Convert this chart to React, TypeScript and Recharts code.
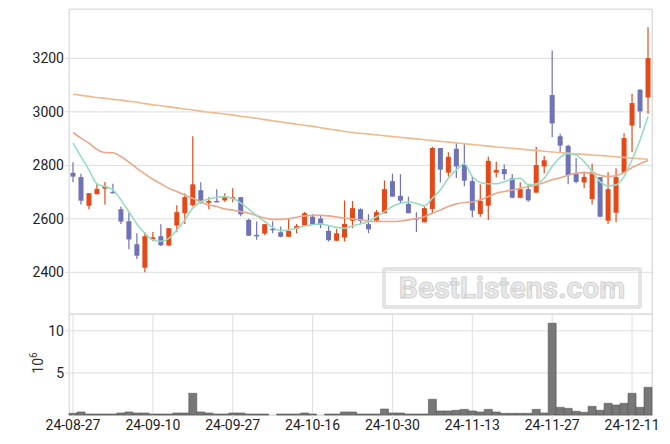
import React from 'react';
import { ComposedChart, Bar, Line, XAxis, YAxis, CartesianGrid } from 'recharts';

const dates = [
  '24-08-27', '24-08-28', '24-08-29', '24-08-30', '24-09-02', '24-09-03', '24-09-04', '24-09-05', '24-09-06', '24-09-09',
  '24-09-10', '24-09-11', '24-09-12', '24-09-13', '24-09-19', '24-09-20', '24-09-23', '24-09-24', '24-09-25', '24-09-26',
  '24-09-27', '24-09-30', '24-10-02', '24-10-04', '24-10-07', '24-10-08', '24-10-10', '24-10-11', '24-10-14', '24-10-15',
  '24-10-16', '24-10-17', '24-10-18', '24-10-21', '24-10-22', '24-10-23', '24-10-24', '24-10-25', '24-10-28', '24-10-29',
  '24-10-30', '24-10-31', '24-11-01', '24-11-04', '24-11-05', '24-11-06', '24-11-07', '24-11-08', '24-11-11', '24-11-12',
  '24-11-13', '24-11-14', '24-11-15', '24-11-18', '24-11-19', '24-11-20', '24-11-21', '24-11-22', '24-11-25', '24-11-26',
  '24-11-27', '24-11-28', '24-11-29', '24-12-02', '24-12-03', '24-12-04', '24-12-05', '24-12-06', '24-12-09', '24-12-10',
  '24-12-11', '24-12-12', '24-12-13',
];

const openPrices = [
  2772, 2756, 2649, 2692, 2713, 2701, 2636, 2591, 2505, 2417, 2523, 2535, 2500, 2575, 2621, 2651, 2707, 2660,
  2667, 2669, 2674, 2681, 2596, 2540, 2545, 2563, 2550, 2533, 2563, 2575, 2608, 2601, 2555, 2518, 2530, 2593,
  2636, 2580, 2593, 2621, 2741, 2686, 2656, 2603, 2587, 2637, 2865, 2773, 2862, 2802, 2741, 2618, 2649, 2773,
  2786, 2752, 2679, 2711, 2698, 2796, 3063, 2909, 2873, 2768, 2736, 2674, 2756, 2593, 2623, 2773, 2949, 3083, 3054,
];

const closePrices = [
  2758, 2668, 2696, 2712, 2723, 2697, 2590, 2523, 2462, 2535, 2531, 2501, 2565, 2625, 2681, 2729, 2662, 2667,
  2664, 2683, 2681, 2617, 2537, 2537, 2580, 2561, 2533, 2555, 2573, 2621, 2578, 2577, 2520, 2546, 2581, 2640,
  2592, 2561, 2625, 2711, 2683, 2668, 2621, 2601, 2640, 2865, 2784, 2832, 2796, 2743, 2631, 2667, 2817, 2783,
  2767, 2679, 2711, 2669, 2801, 2819, 2957, 2874, 2764, 2738, 2757, 2776, 2608, 2711, 2756, 2902, 3033, 3002, 3201,
];

const highPrices = [
  2812, 2769, 2696, 2731, 2738, 2731, 2646, 2623, 2546, 2551, 2551, 2580, 2565, 2651, 2696, 2909, 2737, 2681,
  2711, 2696, 2714, 2681, 2600, 2590, 2580, 2591, 2571, 2601, 2581, 2626, 2618, 2611, 2575, 2562, 2669, 2667,
  2640, 2617, 2633, 2743, 2769, 2767, 2683, 2625, 2646, 2870, 2865, 2849, 2885, 2885, 2758, 2729, 2832, 2814,
  2803, 2768, 2737, 2731, 2870, 2835, 3230, 2918, 2877, 2828, 2777, 2806, 2756, 2774, 2789, 2920, 3068, 3085, 3317,
];

const lowPrices = [
  2737, 2654, 2636, 2692, 2654, 2696, 2581, 2486, 2450, 2400, 2516, 2498, 2500, 2550, 2581, 2646, 2656, 2637,
  2664, 2664, 2662, 2610, 2537, 2522, 2540, 2546, 2531, 2533, 2546, 2575, 2578, 2565, 2515, 2518, 2515, 2565,
  2583, 2546, 2587, 2621, 2683, 2656, 2621, 2551, 2587, 2621, 2736, 2758, 2753, 2722, 2606, 2608, 2596, 2756,
  2746, 2677, 2677, 2664, 2698, 2771, 2905, 2848, 2729, 2733, 2714, 2654, 2606, 2581, 2587, 2773, 2849, 2939, 2993,
];

// volume in millions of shares
const volumes = [
  0.2, 0.36, 0.12, 0.12, 0.12, 0.12, 0.24, 0.36, 0.24, 0.24, 0.12, 0.12, 0.12, 0.24, 0.24, 2.58, 0.36, 0.24,
  0.12, 0.12, 0.24, 0.24, 0.12, 0.12, 0.12, 0, 0.12, 0.12, 0.12, 0.24, 0.12, 0, 0.12, 0.12, 0.36, 0.36,
  0.12, 0.12, 0.12, 0.71, 0.24, 0.24, 0.12, 0.12, 0.12, 1.87, 0.48, 0.48, 0.56, 0.67, 0.48, 0.36, 0.67, 0.36,
  0.2, 0.2, 0.2, 0.2, 0.67, 0.24, 10.9, 0.91, 0.79, 0.44, 0.32, 1.03, 0.56, 1.39, 1.19, 1.39, 2.58, 0.91, 3.29,
];

const ma5 = [
  2883, 2833, 2783, 2731, 2721, 2708, 2671, 2627, 2581, 2546, 2521, 2516, 2527, 2558, 2596, 2640, 2664, 2674,
  2681, 2683, 2676, 2660, 2636, 2612, 2590, 2568, 2556, 2558, 2565, 2573, 2578, 2581, 2575, 2568, 2565, 2573,
  2581, 2590, 2608, 2627, 2646, 2658, 2664, 2658, 2648, 2677, 2708, 2752, 2783, 2806, 2758, 2736, 2731, 2731,
  2739, 2748, 2752, 2727, 2731, 2752, 2796, 2830, 2845, 2839, 2814, 2777, 2739, 2723, 2727, 2758, 2821, 2895, 2983,
];

const ma20 = [
  2923, 2902, 2883, 2860, 2848, 2847, 2833, 2812, 2789, 2768, 2748, 2731, 2714, 2702, 2689, 2677, 2664, 2652,
  2646, 2637, 2633, 2627, 2621, 2612, 2603, 2598, 2598, 2601, 2606, 2611, 2613, 2613, 2611, 2607, 2603, 2600,
  2596, 2592, 2590, 2590, 2590, 2592, 2596, 2601, 2608, 2621, 2633, 2646, 2656, 2661, 2663, 2671, 2683, 2696,
  2702, 2708, 2714, 2721, 2727, 2736, 2746, 2754, 2763, 2771, 2773, 2771, 2763, 2758, 2761, 2773, 2792, 2806, 2818,
];

const ma60 = [
  3066, 3062, 3058, 3054, 3051, 3047, 3044, 3040, 3036, 3031, 3027, 3023, 3019, 3015, 3011, 3007, 3003, 2999,
  2996, 2992, 2988, 2984, 2980, 2976, 2971, 2967, 2963, 2958, 2954, 2950, 2946, 2941, 2936, 2932, 2927, 2923,
  2920, 2917, 2914, 2911, 2908, 2905, 2902, 2899, 2896, 2893, 2890, 2887, 2884, 2881, 2878, 2875, 2872, 2869,
  2867, 2864, 2861, 2858, 2856, 2853, 2850, 2848, 2845, 2843, 2841, 2839, 2837, 2835, 2832, 2830, 2827, 2825, 2823,
];

const dateTicks = ['24-08-27', '24-09-10', '24-09-27', '24-10-16', '24-10-30', '24-11-13', '24-11-27', '24-12-11'];
const priceTicks = [2400, 2600, 2800, 3000, 3200];
const volumeTicks = [5, 10];

const UP = '#e4491a';
const DOWN = '#6e72b6';
const GRID = '#dedede';
const FONT = 'Roboto, "DejaVu Sans", sans-serif';

const data = dates.map((date, i) => ({
  date,
  open: openPrices[i],
  close: closePrices[i],
  high: highPrices[i],
  low: lowPrices[i],
  range: [lowPrices[i], highPrices[i]],
  volume: volumes[i],
  ma5: ma5[i],
  ma20: ma20[i],
  ma60: ma60[i],
}));

const Candle = (props: any) => {
  let { x, y, width, height } = props;
  const { open, close, high, low } = props.payload;
  if (height < 0) {
    y += height;
    height = -height;
  }
  const cx = x + width / 2;
  const k = height / (high - low || 1);
  const py = (v: number) => y + (high - v) * k;
  const color = close >= open ? UP : DOWN;
  const top = py(Math.max(open, close));
  const bottom = py(Math.min(open, close));
  return (
    <g>
      <line x1={cx} x2={cx} y1={y} y2={y + height} stroke={color} strokeWidth={1.2} />
      <rect x={cx - 2.5} y={top} width={5} height={Math.max(bottom - top, 1.5)} fill={color} />
    </g>
  );
};

const tickStyle = { fill: '#222', fontSize: 14, fontFamily: FONT };

export default function App() {
  return (
    <div style={{ position: 'absolute', left: 0, top: 0, width: 670, height: 444, background: '#fff', overflow: 'hidden' }}>
      {/* panel frames */}
      <div style={{ position: 'absolute', left: 69, top: 9, width: 584, height: 306, boxSizing: 'border-box', border: `1px solid ${GRID}` }} />
      <div style={{ position: 'absolute', left: 69, top: 314, width: 584, height: 102, boxSizing: 'border-box', border: `1px solid ${GRID}` }} />

      {/* watermark */}
      <div
        style={{
          position: 'absolute', left: 382, top: 267, width: 260, height: 42, boxSizing: 'border-box',
          border: '4px solid #e4e4e4', borderRadius: 3, textAlign: 'center',
          fontFamily: FONT, fontWeight: 700, fontSize: 30, lineHeight: '34px',
          color: '#e9e9e9', WebkitTextStroke: '1px #d2d2d2',
        }}
      >
        BestListens.com
      </div>

      <div style={{ position: 'absolute', left: 0, top: 0 }}>
        <ComposedChart width={670} height={315} data={data} margin={{ top: 9, right: 18, bottom: 1, left: 0 }} barCategoryGap={0}>
          <CartesianGrid stroke={GRID} />
          <XAxis dataKey="date" ticks={dateTicks} interval={0} height={0} tick={false} axisLine={false} tickLine={false} />
          <YAxis
            domain={[2244, 3385]}
            ticks={priceTicks}
            width={69}
            axisLine={false}
            tickLine={{ stroke: GRID }}
            tickSize={4}
            tickMargin={1}
            tick={tickStyle}
            allowDataOverflow
          />
          <Line dataKey="ma60" type="monotone" stroke="#f0b98c" strokeWidth={1.6} dot={false} isAnimationActive={false} />
          <Line dataKey="ma20" type="monotone" stroke="#eda68a" strokeWidth={1.6} dot={false} isAnimationActive={false} />
          <Line dataKey="ma5" type="monotone" stroke="#97dcc2" strokeWidth={1.6} dot={false} isAnimationActive={false} />
          <Bar dataKey="range" shape={<Candle />} isAnimationActive={false} />
        </ComposedChart>
      </div>

      <div style={{ position: 'absolute', left: 0, top: 300 }}>
        <ComposedChart width={670} height={144} data={data} margin={{ top: 14, right: 18, bottom: 0, left: 0 }} barCategoryGap={0}>
          <CartesianGrid stroke={GRID} />
          <XAxis
            dataKey="date"
            ticks={dateTicks}
            interval={0}
            height={29}
            axisLine={false}
            tickLine={{ stroke: GRID }}
            tickSize={4}
            tickMargin={1}
            tick={tickStyle}
          />
          <YAxis
            domain={[0, 12]}
            ticks={volumeTicks}
            width={69}
            axisLine={false}
            tickLine={{ stroke: GRID }}
            tickSize={4}
            tickMargin={1}
            tick={tickStyle}
          />
          <Bar dataKey="volume" fill="#777777" stroke="#555555" strokeWidth={0.6} isAnimationActive={false} />
        </ComposedChart>
      </div>

      {/* volume unit label */}
      <div
        style={{
          position: 'absolute', left: 14, top: 355, width: 40, height: 16, textAlign: 'center',
          transform: 'rotate(-90deg)', fontFamily: FONT, fontSize: 14, color: '#333', lineHeight: '16px',
        }}
      >
        10<sup style={{ fontSize: 10 }}>6</sup>
      </div>
    </div>
  );
}
